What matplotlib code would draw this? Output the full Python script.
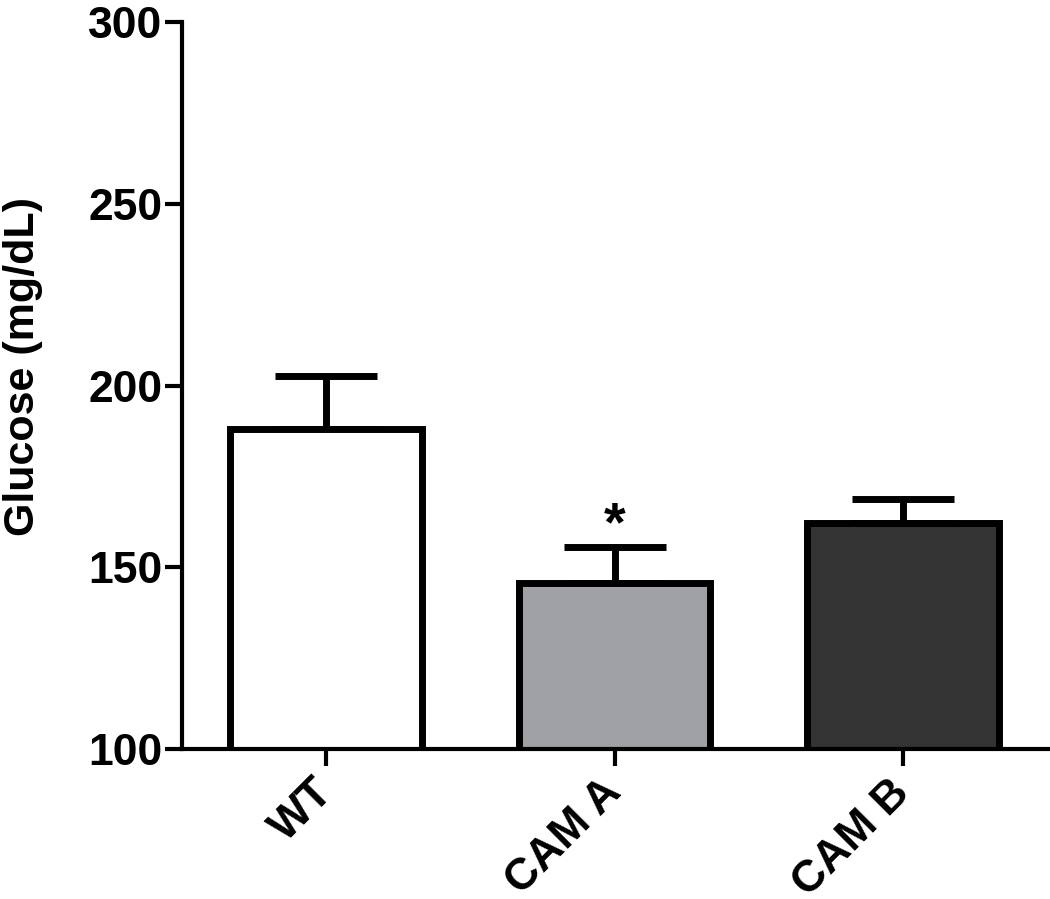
import matplotlib
matplotlib.use("Agg")
import matplotlib.pyplot as plt
from matplotlib.transforms import ScaledTranslation
import numpy as np

categories = ["WT", "CAM A", "CAM B"]
means = [188.0, 145.7, 162.2]
sem_upper = [14.6, 9.9, 6.6]
fill_colors = ["#FFFFFF", "#A0A1A5", "#333333"]
y_ticks = [100, 150, 200, 250, 300]
significance = ["", "*", ""]

plt.rcParams['font.family'] = ['Liberation Sans', 'DejaVu Sans']
plt.rcParams['font.weight'] = 'bold'

fig = plt.figure(figsize=(10.5, 8.99), dpi=100)
ax = fig.add_axes([182/1050, 1 - 749/899, 1 - 182/1050, (749 - 22)/899])

x = np.arange(len(categories))
ax.errorbar(x, means, yerr=[np.zeros(len(means)), sem_upper], fmt='none',
            ecolor='black', elinewidth=5, capsize=37, capthick=5, zorder=1)
ax.bar(x, means, width=0.665, color=fill_colors, edgecolor='black',
       linewidth=5, zorder=2)

for xi, m, s, lab in zip(x, means, sem_upper, significance):
    if lab:
        ax.text(xi, m + s - 1.6, lab, ha='center', va='bottom',
                fontsize=40, fontweight='bold')

ax.set_xlim(-0.5, 2.51)
ax.set_ylim(100, 300)

for side in ['top', 'right']:
    ax.spines[side].set_visible(False)
for side in ['left', 'bottom']:
    ax.spines[side].set_linewidth(3)
ax.tick_params(axis='both', width=3, length=12, pad=2)
ax.tick_params(axis='x', pad=8)

ax.set_yticks(y_ticks)
ax.set_yticklabels([str(t) for t in y_ticks], fontsize=32, fontweight='bold')
ax.set_xticks(x)
ax.set_xticklabels(categories, fontsize=32, fontweight='bold', rotation=45,
                   ha='right', va='top', rotation_mode='anchor')
shift = ScaledTranslation(-14/100, 5/100, fig.dpi_scale_trans)
for lbl in ax.get_xticklabels():
    lbl.set_transform(lbl.get_transform() + shift)

ax.set_ylabel("Glucose (mg/dL)", fontsize=31, fontweight='bold')
ax.yaxis.set_label_coords((43 - 182) / 868, (749 - 366) / 727)

fig.savefig("out.png", dpi=100)
